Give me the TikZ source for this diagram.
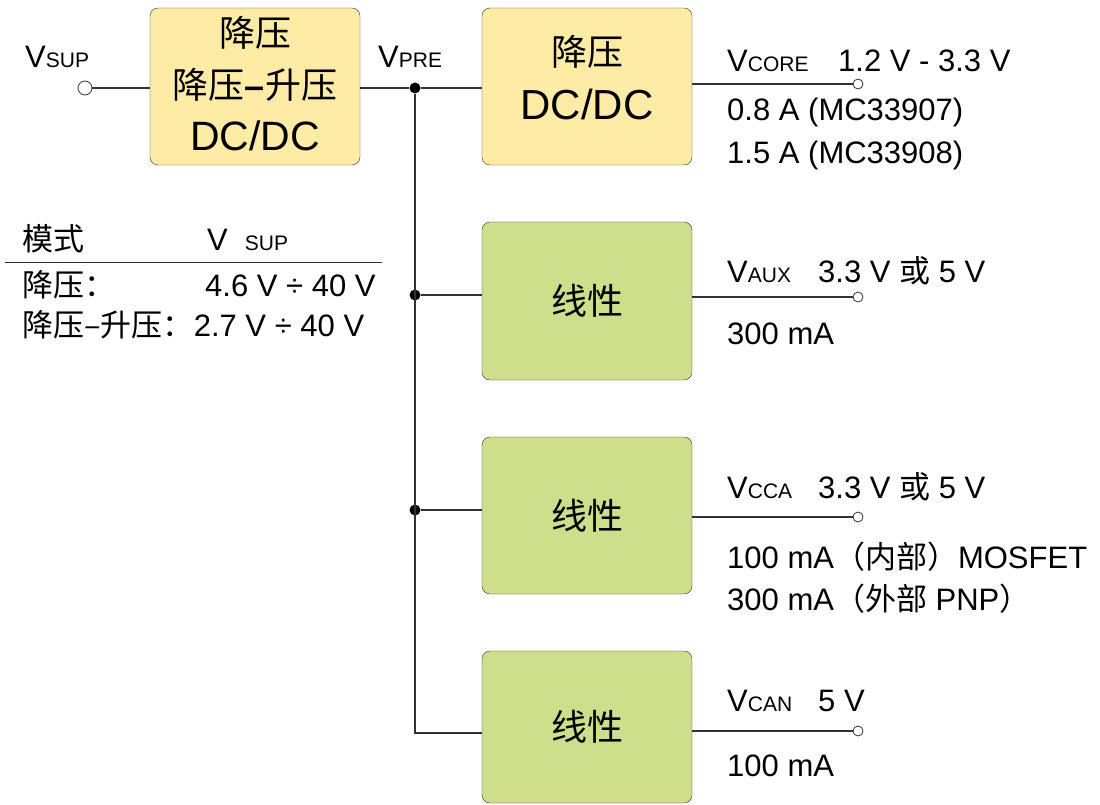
\documentclass[tikz,border=0pt]{standalone}
\usepackage{fontspec}
\setmainfont{Liberation Sans}
\newfontfamily\cjk{Noto Sans CJK SC}
\usepackage{tikz}
\usetikzlibrary{positioning}
\definecolor{buckyellow}{RGB}{254,236,166}
\definecolor{lingreen}{RGB}{206,222,138}
\definecolor{wiregray}{RGB}{50,50,50}
\newcommand{\fs}[1]{\fontsize{#1}{#1}\selectfont}
\newcommand{\Vsub}[1]{V{\fs{21}#1}}
\tikzset{
  regbox/.style={draw=wiregray, rounded corners=8pt, minimum width=210pt, minimum height=157pt, align=center, inner sep=0pt},
  buckbox/.style={regbox, fill=buckyellow},
  linbox/.style={regbox, fill=lingreen, font=\cjk\fs{36}},
  wire/.style={draw=wiregray, line width=1.1pt},
  term/.style={circle, draw=wiregray, fill=white, line width=0.8pt, minimum size=10pt, inner sep=0pt},
  junc/.style={circle, fill=black, minimum size=11pt, inner sep=0pt},
  lbl/.style={anchor=base west, inner sep=0pt, font=\fs{31}}
}

\begin{document}
\begin{tikzpicture}[x=1pt,y=-1pt]
  \useasboundingbox (0,0) rectangle (1100,805);

  % converters
  \node[buckbox, font=\fontsize{41}{52}\selectfont] (bbconv) at (255,86.5)
    {{\cjk\fontsize{36}{52}\selectfont 降压}\\{\cjk\fontsize{36}{52}\selectfont 降压{\rmfamily\bfseries –}升压}\\DC/DC\rule[-6pt]{0pt}{0pt}};
  \node[buckbox, font=\fontsize{42}{54}\selectfont] (buck) at (587,86.5)
    {{\cjk\fontsize{36}{54}\selectfont 降压}\\DC/DC\rule[-18pt]{0pt}{0pt}};
  \node[linbox, minimum height=158pt] (ldoaux) at (587,301) {线性};
  \node[linbox] (ldocca) at (587,515.5) {线性};
  \node[linbox, minimum height=152pt] (ldocan) at (587,727) {线性};

  % terminals and bus
  \node[term, minimum size=14pt] (vsup) at (85,88) {};
  \node[term] (vcore) at (858,84) {};
  \node[term] (vaux) at (858,297) {};
  \node[term] (vcca) at (858,517) {};
  \node[term] (vcan) at (858,731) {};
  \node[junc] (j1) at (415,88) {};
  \node[junc] (j2) at (415,295) {};
  \node[junc] (j3) at (415,510) {};
  \coordinate (jend) at (415,733);

  \draw[wire] (vsup.east) -- (vsup.east -| bbconv.west);
  \draw[wire] (j1 -| bbconv.east) -- (j1) -- (j1 -| buck.west);
  \draw[wire] (j1) -- (jend) -- (jend -| ldocan.west);
  \draw[wire] (j2) -- (j2 -| ldoaux.west);
  \draw[wire] (j3) -- (j3 -| ldocca.west);
  \draw[wire] (vcore.west -| buck.east) -- (vcore.west);
  \draw[wire] (vaux.west -| ldoaux.east) -- (vaux.west);
  \draw[wire] (vcca.west -| ldocca.east) -- (vcca.west);
  \draw[wire] (vcan.west -| ldocan.east) -- (vcan.west);

  % input side labels
  \node[lbl] (lsup) at (25,68) {\Vsub{SUP}};
  \node[lbl] (lpre) at (378,68) {\Vsub{PRE}};

  % mode table
  \node[lbl] (thmode) at (22,251) {\cjk 模式};
  \node[lbl] (thvsup) at (207,251) {V\hspace{17pt}{\fs{21}SUP}};
  \draw[wiregray, line width=1pt] (5,262) -- (382,262);
  \node[lbl] (rbuck) at (22,296) {\cjk 降压：};
  \node[lbl] (rbuckv) at (205,296) {4.6 V ÷ 40 V};
  \node[lbl] (rbb) at (22,336) {{\cjk 降压–升压：}2.7 V ÷ 40 V};

  % output labels
  \node[lbl] (lcore) at (727,72) {\Vsub{CORE}};
  \node[lbl] (lcorev) at (838,72) {1.2 V - 3.3 V};
  \node[lbl] (lcorea) at (727,121) {0.8 A (MC33907)};
  \node[lbl] (lcoreb) at (727,164) {1.5 A (MC33908)};

  \node[lbl] (laux) at (727,282) {\Vsub{AUX}};
  \node[lbl] (lauxv) at (818,282) {3.3 V {\cjk 或} 5 V};
  \node[lbl] (lauxa) at (727,344) {300 mA};

  \node[lbl] (lcca) at (727,498) {\Vsub{CCA}};
  \node[lbl] (lccav) at (818,498) {3.3 V {\cjk 或} 5 V};
  \node[lbl] (lccaa) at (727,568) {100 mA{\cjk（内部）}MOSFET};
  \node[lbl] (lccab) at (727,610) {300 mA{\cjk（外部} PNP{\cjk）}};

  \node[lbl] (lcan) at (727,711) {\Vsub{CAN}};
  \node[lbl] (lcanv) at (818,711) {5 V};
  \node[lbl] (lcana) at (727,776) {100 mA};
\end{tikzpicture}
\end{document}
